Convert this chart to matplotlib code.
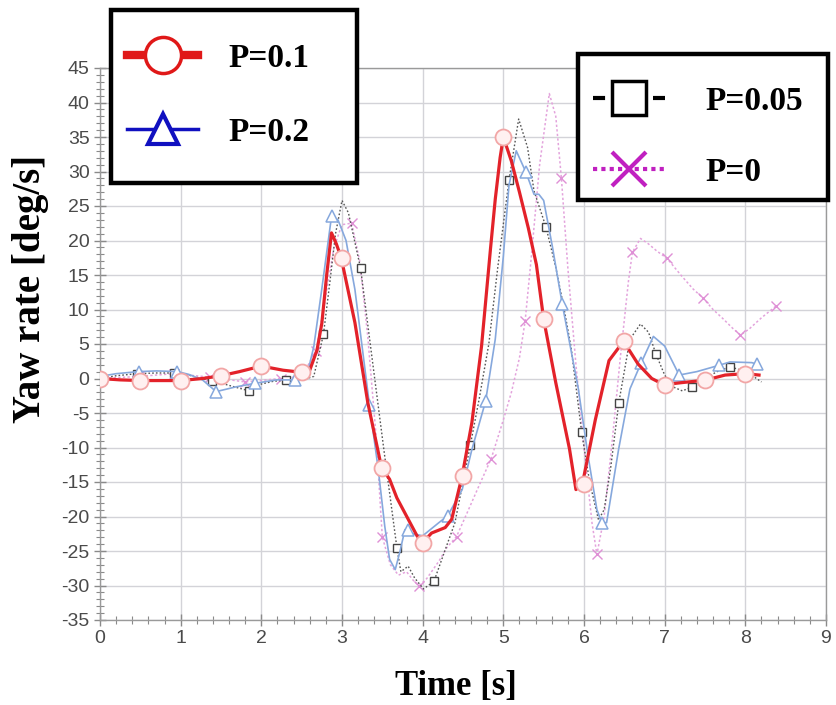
import matplotlib
matplotlib.use("Agg")
import matplotlib.pyplot as plt
from matplotlib.lines import Line2D
from matplotlib.patches import Rectangle
from matplotlib.ticker import MultipleLocator

plt.rcParams["axes.unicode_minus"] = False

# P=0.1 (red, circles)
t_r = [0, 0.25, 0.5, 0.75, 1.0, 1.27, 1.5, 1.73, 2.0, 2.27, 2.5, 2.6, 2.69, 2.75,
       2.81, 2.87, 2.93, 2.99, 3.16, 3.32, 3.49, 3.59, 3.68, 3.78, 3.93, 4.0, 4.11,
       4.28, 4.36, 4.49, 4.61, 4.73, 4.84, 4.9, 4.96, 5.0, 5.1, 5.2, 5.31, 5.41, 5.5,
       5.65, 5.82, 5.9, 5.98, 6.14, 6.31, 6.49, 6.67, 6.84, 6.99, 7.21, 7.5, 7.75,
       8.0, 8.17]
y_r = [0, -0.2, -0.3, -0.3, -0.3, 0, 0.4, 1.0, 1.8, 1.2, 0.9, 1.2, 4.1, 8,
       15, 21.1, 19.5, 17.5, 8.1, -3.5, -12.9, -14.6, -17.3, -19.5, -22.8, -23.8, -22.4,
       -21.6, -20.4, -14.1, -6.4, 4.7, 18.7, 26, 32, 35, 31.5, 27, 21.8, 16.5, 8.6,
       -0.6, -10.2, -16.1, -15.3, -6, 2.6, 5.4, 2.1, 0, -0.9, -0.6, -0.25, 0.5,
       0.7, 0.5]
tm_r = [0, 0.5, 1.0, 1.5, 2.0, 2.5, 3.0, 3.5, 4.0, 4.5, 5.0, 5.5, 6.0, 6.5, 7.0, 7.5, 8.0]
ym_r = [0, -0.3, -0.3, 0.4, 1.8, 0.9, 17.5, -12.9, -23.8, -14.1, 35, 8.6, -15.3, 5.4,
        -0.9, -0.25, 0.7]

# P=0.2 (blue, triangles)
t_b = [0, 0.2, 0.48, 0.7, 0.96, 1.1, 1.27, 1.44, 1.69, 1.92, 2.19, 2.42, 2.56, 2.65,
       2.75, 2.87, 2.95, 3.05, 3.16, 3.34, 3.45, 3.53, 3.59, 3.66, 3.72, 3.78, 3.84,
       4.0, 4.2, 4.31, 4.49, 4.61, 4.78, 4.9, 5.0, 5.07, 5.16, 5.28, 5.38, 5.44, 5.5,
       5.61, 5.73, 5.93, 6.05, 6.16, 6.22, 6.28, 6.43, 6.57, 6.71, 6.86, 7.0, 7.18,
       7.4, 7.67, 7.81, 8.08, 8.14]
y_b = [0.3, 0.7, 1.0, 1.1, 1.0, 0.6, -0.2, -1.9, -1.2, -0.7, -0.2, -0.2, 0.2, 4.6,
       13, 23.5, 23, 20, 12.9, -3.8, -13.2, -21.4, -26.2, -27.7, -25, -21.9, -22.4,
       -22.8, -20.9, -19.9, -16.1, -10.3, -3.3, 5.7, 17.7, 28, 33, 29.9, 26.7, 26.7, 25.8,
       19, 10.8, -1.5, -11.2, -19, -20.9, -20.9, -10.2, -1.5, 2.3, 6.1, 4.7, 0.5,
       1.0, 1.9, 2.4, 2.3, 2.1]
tm_b = [0.48, 0.96, 1.44, 1.92, 2.42, 2.87, 3.34, 3.82, 4.31, 4.78, 5.28, 5.73, 6.22,
        6.71, 7.18, 7.67, 8.14]
ym_b = [1.0, 1.0, -1.9, -0.7, -0.2, 23.5, -3.8, -22, -19.9, -3.3, 29.9, 10.8, -20.9,
        2.3, 0.5, 1.9, 2.1]

# P=0.05 (dark dotted, squares)
t_g = [0, 0.2, 0.46, 0.7, 0.92, 1.1, 1.25, 1.39, 1.6, 1.85, 2.0, 2.15, 2.31, 2.5,
       2.65, 2.77, 2.85, 2.92, 3.0, 3.08, 3.23, 3.37, 3.53, 3.68, 3.73, 3.82, 3.9,
       4.01, 4.14, 4.28, 4.4, 4.59, 4.7, 4.82, 4.93, 5.07, 5.19, 5.3, 5.38, 5.53,
       5.65, 5.75, 5.84, 5.97, 6.07, 6.18, 6.25, 6.33, 6.43, 6.57, 6.7, 6.8, 6.89,
       7.0, 7.1, 7.22, 7.34, 7.5, 7.65, 7.81, 7.95, 8.1, 8.2]
y_g = [0, 0.4, 0.7, 0.8, 0.8, 0.5, 0, -0.3, -1.0, -1.8, -0.8, -0.4, -0.25, -0.2,
       0.3, 6.4, 14, 21, 25.8, 24, 16, 3.2, -11.3, -24.5, -28, -27.2, -28.9,
       -30.5, -29.4, -24.8, -20.9, -9.7, -3, 5, 16, 28.7, 37.6, 33.5, 27.2, 21.9,
       16.1, 10.3, 4.5, -7.7, -15, -20.5, -19, -13, -3.6, 5.7, 7.9, 6.7, 3.6,
       0.5, -1.2, -1.8, -1.2, 0, 1.0, 1.7, 1.2, 0.3, -0.5]
tm_g = [0, 0.46, 0.92, 1.39, 1.85, 2.31, 2.77, 3.23, 3.68, 4.14, 4.59, 5.07, 5.53,
        5.97, 6.43, 6.89, 7.34, 7.81]
ym_g = [0, 0.7, 0.8, -0.3, -1.8, -0.25, 6.4, 16, -24.5, -29.4, -9.7, 28.7, 21.9,
        -7.7, -3.6, 3.6, -1.2, 1.7]

# P=0 (magenta dotted, crosses)
t_m = [0, 0.48, 0.92, 1.36, 1.8, 2.24, 2.5, 2.68, 2.8, 2.9, 3.0, 3.12, 3.22, 3.32,
       3.42, 3.5, 3.6, 3.7, 3.8, 3.9, 3.96, 4.05, 4.2, 4.3, 4.42, 4.55, 4.7, 4.85,
       5.0, 5.1, 5.2, 5.27, 5.35, 5.45, 5.57, 5.65, 5.72, 5.8, 5.9, 6.0, 6.1, 6.16,
       6.25, 6.35, 6.45, 6.55, 6.6, 6.7, 6.8, 6.9, 7.03, 7.2, 7.35, 7.48, 7.6, 7.72,
       7.85, 7.94, 8.05, 8.2, 8.38]
y_m = [0, 0.3, 0.7, 0.2, -0.5, 0, 0.3, 4, 12, 19, 22.3, 22.5, 17, 6,
       -8, -23, -27, -28.5, -28, -29.5, -30, -29, -26.5, -24.5, -22.9, -19.5, -15.5, -11.6,
       -6, -2, 3, 8.3, 18, 31, 41.3, 38, 29, 16, 2, -10, -21, -25.5,
       -20, -9, 3, 14, 18.3, 20.3, 19.5, 18.5, 17.4, 15, 13, 11.6, 10, 8.7,
       7.2, 6.3, 7.2, 8.8, 10.5]
tm_m = [0.48, 0.92, 1.36, 1.8, 2.24, 2.68, 3.12, 3.5, 3.96, 4.42, 4.85, 5.27, 5.72,
        6.16, 6.6, 7.03, 7.48, 7.94, 8.38]
ym_m = [0.3, 0.7, 0.2, -0.5, 0, 4, 22.5, -23, -30, -22.9, -11.6, 8.3, 29,
        -25.5, 18.3, 17.4, 11.6, 6.3, 10.5]

labels = ["P=0.1", "P=0.2", "P=0.05", "P=0"]

W, H = 836, 705
fig = plt.figure(figsize=(W / 100, H / 100), dpi=100)
ax = fig.add_axes([100 / W, 1 - 620 / H, 726 / W, 552 / H])

# curves
ax.plot(t_m, y_m, color="#e3a3dc", lw=1.1, ls=(0, (1.5, 1.5)), zorder=2)
ax.plot(tm_m, ym_m, ls="none", marker="x", ms=7, mew=1.0, color="#df90d6", zorder=2)
ax.plot(t_g, y_g, color="#555555", lw=1.0, ls=(0, (1.2, 1.5)), zorder=3)
ax.plot(tm_g, ym_g, ls="none", marker="s", ms=6, mfc="white", mec="#444444", mew=1.0, zorder=3)
ax.plot(t_b, y_b, color="#86a8dd", lw=1.2, zorder=4)
ax.plot(tm_b, ym_b, ls="none", marker="^", ms=8, mfc="white", mec="#86a8dd", mew=1.1, zorder=4)
ax.plot(t_r, y_r, color="#e3222a", lw=2.3, zorder=5)
ax.plot(tm_r, ym_r, ls="none", marker="o", ms=11.5, mfc="#fff0f0", mec="#f2a6a6", mew=1.3, zorder=6)

ax.set_xlim(0, 9)
ax.set_ylim(-35, 45)
ax.xaxis.set_major_locator(MultipleLocator(1))
ax.xaxis.set_minor_locator(MultipleLocator(0.2))
ax.yaxis.set_major_locator(MultipleLocator(5))
ax.yaxis.set_minor_locator(MultipleLocator(1))
ax.grid(True, which="major", color="#d3d3d8", lw=1.0)
ax.set_axisbelow(True)
for s in ax.spines.values():
    s.set_color("#9a9a9a")
    s.set_linewidth(1.0)
ax.tick_params(which="major", direction="inout", length=9, width=1, color="#8a8a8a",
               labelsize=14, labelcolor="#4a4a4a", pad=3)
ax.tick_params(which="minor", direction="inout", length=6, width=0.8, color="#8a8a8a")
for lab in ax.get_xticklabels() + ax.get_yticklabels():
    lab.set_fontfamily("Liberation Sans")

serif = {"family": "Liberation Serif", "weight": "bold"}
ax.set_xlabel("Time [s]", fontdict=dict(serif, size=25))
ax.set_ylabel("Yaw rate [deg/s]", fontdict=dict(serif, size=28))
ax.xaxis.set_label_coords(0.49, -0.09)
ax.yaxis.set_label_coords(-0.07, 0.6)

# legend boxes
for (x0, y0, x1, y1) in [(111, 10, 357, 183), (578, 54, 828, 200)]:
    fig.add_artist(Rectangle((x0 / W, 1 - y1 / H), (x1 - x0) / W, (y1 - y0) / H,
                             transform=fig.transFigure, facecolor="white",
                             edgecolor="black", lw=3.2, zorder=5))

h1 = [Line2D([], [], color="#e01818", lw=6, marker="o", ms=26, mfc="white",
             mec="#e01818", mew=2.5),
      Line2D([], [], color="#1010c0", lw=2.5, marker="^", ms=22, mfc="white",
             mec="#1010c0", mew=3)]
h2 = [Line2D([], [], color="black", lw=3, ls=(0, (2.9, 11.5)), marker="s", ms=24,
             mfc="white", mec="black", mew=2.5),
      Line2D([], [], color="#c020c0", lw=3, ls=(0, (1, 1)), marker="x", ms=24,
             mew=3, mec="#c020c0")]
prop = {"family": "Liberation Serif", "weight": "bold", "size": 24}
leg1 = fig.legend(h1, labels[:2], loc="upper left", bbox_to_anchor=(127 / W, 1 - 43 / H),
                  frameon=False, prop=prop, borderpad=0, borderaxespad=0,
                  handlelength=2.13, handletextpad=0.9, labelspacing=1.29)
leg2 = fig.legend(h2, labels[2:], loc="upper left", bbox_to_anchor=(593 / W, 1 - 86 / H),
                  frameon=False, prop=prop, borderpad=0, borderaxespad=0,
                  handlelength=2.16, handletextpad=1.2, labelspacing=1.2)
leg1.set_zorder(6)
leg2.set_zorder(6)

fig.savefig("out.png", dpi=100)
